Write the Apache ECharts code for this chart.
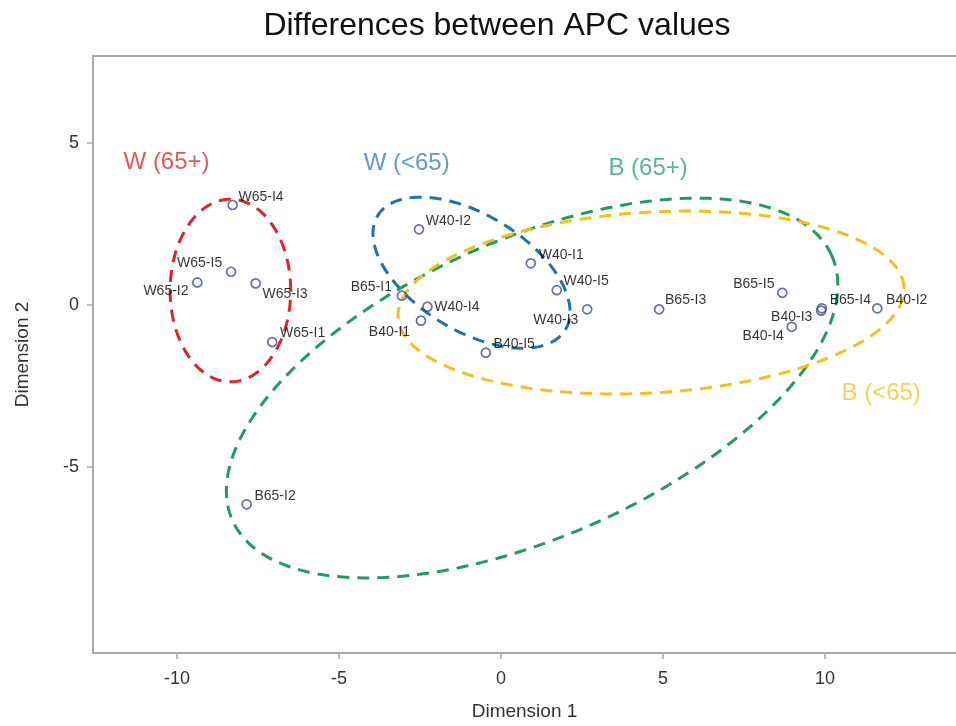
<!DOCTYPE html>
<html>
<head>
<meta charset="utf-8">
<title>Differences between APC values</title>
<script src="https://cdn.jsdelivr.net/npm/echarts@6/dist/echarts.min.js"></script>
<style>
  html, body { margin: 0; padding: 0; background: #ffffff; }
  #chart { width: 956px; height: 726px; }
</style>
</head>
<body>
<div id="chart"></div>
<script>
// MDS coordinates of each APC profile
const pointNames = ['W65-I4', 'W65-I5', 'W65-I2', 'W65-I3', 'W65-I1',
                    'W40-I2', 'B65-I1', 'W40-I4', 'B40-I1', 'B40-I5',
                    'W40-I1', 'W40-I5', 'W40-I3', 'B65-I3', 'B65-I5',
                    'B65-I4', 'B40-I3', 'B40-I4', 'B40-I2', 'B65-I2'];
const dim1 = [-8.28, -8.33, -9.37, -7.57, -7.06,
              -2.53, -3.06, -2.27, -2.47, -0.47,
               0.92,  1.72,  2.66,  4.88,  8.68,
               9.90,  9.88,  8.97, 11.61, -7.85];
const dim2 = [ 3.09,  1.03,  0.70,  0.67, -1.14,
               2.34,  0.29, -0.05, -0.48, -1.47,
               1.29,  0.46, -0.13, -0.13,  0.38,
              -0.10, -0.17, -0.67, -0.10, -6.15];

// where each point's name sits: side, horizontal gap (px), vertical shift (px)
const labelSide = ['r', 'l', 'l', 'r', 'r', 'r', 'l', 'r', 'l', 'r',
                   'r', 'r', 'l', 'r', 'l', 'r', 'l', 'l', 'r', 'r'];
const labelGap  = [5, 8, 8, 6, 7, 6, 9, 6, 10, 7, 7, 6, 8, 5, 7, 7, 8, 7, 8, 7];
const labelRise = [-8, -9, 9, 11, -9, -8, -9, 0, 11, -9, -8, -9, 11, -9, -9, -8, 7, 9, -8, -8];

// group ellipses: centre, semi-axes and rotation (degrees)
const groupNames = ['W (65+)', 'W (<65)', 'B (65+)', 'B (<65)'];
const ellipseCx = [-8.35, -0.91, 0.96, 4.63];
const ellipseCy = [0.45, 1.00, -2.56, 0.08];
const ellipseA  = [1.86, 3.39, 10.11, 7.82];
const ellipseB  = [2.82, 1.79, 4.60, 2.79];
const ellipseRot = [0, -31.3, 23.8, 3.4];
const groupColors = ['#e5202a', '#2270ad', '#1e9e5c', '#f4c01a'];
const groupTextColors = ['#de2d30', '#3a82c4', '#2fa566', '#f2c92a'];

// group name positions
const groupTagX = [-10.32, -2.91, 4.54, 11.73];
const groupTagY = [4.42, 4.37, 4.21, -2.73];

// axis ticks
const xTicks = [-10, -5, 0, 5, 10];
const yTicks = [-5, 0, 5];

const FONT = '"Liberation Sans", Arial, sans-serif';
const AXIS_GREY = '#a9a9a9';

function ellipseOutline(i) {
  const out = [];
  const steps = 240;
  const th = ellipseRot[i] * Math.PI / 180;
  const c = Math.cos(th), s = Math.sin(th);
  for (let k = 0; k <= steps; k++) {
    const t = 2 * Math.PI * k / steps;
    const u = ellipseA[i] * Math.cos(t);
    const v = ellipseB[i] * Math.sin(t);
    out.push([ellipseCx[i] + u * c - v * s, ellipseCy[i] + u * s + v * c]);
  }
  return out;
}

const ellipseSeries = groupNames.map(function (name, i) {
  return {
    name: name,
    type: 'line',
    data: ellipseOutline(i),
    showSymbol: false,
    symbol: 'none',
    silent: true,
    animation: false,
    z: 2,
    lineStyle: { color: groupColors[i], width: 3, type: [12, 8], cap: 'butt' }
  };
});

const pointData = pointNames.map(function (n, i) {
  const right = labelSide[i] === 'r';
  return {
    name: n,
    value: [dim1[i], dim2[i]],
    label: {
      position: right ? 'right' : 'left',
      distance: labelGap[i] - 4.5,
      offset: [0, labelRise[i]]
    }
  };
});

const tagData = groupNames.map(function (n, i) {
  return {
    name: n,
    value: [groupTagX[i], groupTagY[i]],
    label: { color: groupTextColors[i] }
  };
});

const chart = echarts.init(document.getElementById('chart'), null, { renderer: 'canvas' });

chart.setOption({
  animation: false,
  backgroundColor: '#ffffff',
  title: {
    text: 'Differences between APC values',
    left: 492,
    top: 5,
    textAlign: 'center',
    textStyle: { fontFamily: FONT, fontSize: 32, fontWeight: 'normal', color: '#111111' }
  },
  grid: { left: 93, right: 0, top: 56, bottom: 73, show: false },
  xAxis: [{
    type: 'value',
    min: -12.59,
    max: 14.04,
    position: 'bottom',
    name: 'Dimension 1',
    nameLocation: 'middle',
    nameGap: 49,
    nameTextStyle: { fontFamily: FONT, fontSize: 19, color: '#333333' },
    axisLine: { show: true, onZero: false, lineStyle: { color: AXIS_GREY, width: 2 } },
    axisTick: { show: true, customValues: xTicks, length: 6, lineStyle: { color: AXIS_GREY, width: 1.5 } },
    axisLabel: { customValues: xTicks, margin: 17, fontFamily: FONT, fontSize: 18, color: '#333333' },
    splitLine: { show: false }
  }, {
    type: 'value',
    min: -12.59,
    max: 14.04,
    position: 'top',
    axisLine: { show: true, onZero: false, lineStyle: { color: AXIS_GREY, width: 2 } },
    axisTick: { show: false },
    axisLabel: { show: false },
    splitLine: { show: false }
  }],
  yAxis: {
    type: 'value',
    min: -10.74,
    max: 7.69,
    position: 'left',
    name: 'Dimension 2',
    nameLocation: 'middle',
    nameGap: 61,
    nameRotate: 90,
    nameTextStyle: { fontFamily: FONT, fontSize: 19, color: '#333333' },
    axisLine: { show: true, onZero: false, lineStyle: { color: AXIS_GREY, width: 2 } },
    axisTick: { show: true, customValues: yTicks, length: 6, lineStyle: { color: AXIS_GREY, width: 1.5 } },
    axisLabel: { customValues: yTicks, margin: 14, fontFamily: FONT, fontSize: 18, color: '#333333' },
    splitLine: { show: false }
  },
  series: ellipseSeries.concat([{
    name: 'profiles',
    type: 'scatter',
    data: pointData,
    symbol: 'circle',
    symbolSize: 9,
    z: 3,
    itemStyle: { color: 'rgba(255,255,255,0)', borderColor: '#3a4c9c', borderWidth: 1.7 },
    label: {
      show: true,
      formatter: '{b}',
      fontFamily: FONT,
      fontSize: 14,
      color: '#000000'
    }
  }, {
    name: 'groups',
    type: 'scatter',
    data: tagData,
    symbolSize: 0,
    silent: true,
    z: 4,
    label: {
      show: true,
      position: 'inside',
      formatter: '{b}',
      fontFamily: FONT,
      fontSize: 24
    }
  }])
});
</script>
</body>
</html>
